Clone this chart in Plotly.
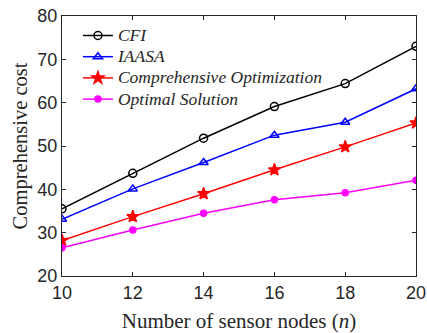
import plotly.graph_objects as go

nodes = [10, 12, 14, 16, 18, 20]
cfi = [35.5, 43.7, 51.8, 59.1, 64.4, 73.0]
iaasa = [33.1, 40.1, 46.2, 52.5, 55.5, 63.2]
comp_opt = [28.2, 33.7, 39.0, 44.5, 49.8, 55.3]
optimal = [26.5, 30.6, 34.5, 37.6, 39.2, 42.1]

series = [
    ("CFI", cfi, "black", "circle-open", 8),
    ("IAASA", iaasa, "blue", "triangle-up-open", 8),
    ("Comprehensive Optimization", comp_opt, "red", "star", 9),
    ("Optimal Solution", optimal, "magenta", "circle", 6),
]

fig = go.Figure()
for name, vals, color, sym, size in series:
    fig.add_trace(go.Scatter(
        x=nodes, y=vals,
        name='<span style="font-size:17.5px"><i>' + name + "</i></span>",
        mode="lines+markers",
        line=dict(color=color, width=1.5),
        marker=dict(symbol=sym, size=size, color=color, line=dict(color=color, width=1.5)),
    ))

serif = "Liberation Serif, Times New Roman, serif"
axis_common = dict(
    showline=True, linecolor="#262626", linewidth=1, mirror="ticks",
    ticks="inside", ticklen=4, tickcolor="#262626", showgrid=False, zeroline=False,
    tickfont=dict(family="Liberation Sans, Arial", size=18, color="#262626"),
    ticklabeloverflow="allow", automargin=False,
)
fig.update_xaxes(range=[10, 20], tickvals=[10, 12, 14, 16, 18, 20],
                 title=dict(text="Number of sensor nodes (<i>n</i>)",
                            font=dict(family=serif, size=21, color="#262626"),
                            standoff=14),
                 **axis_common)
fig.update_yaxes(range=[20, 80], tickvals=[20, 30, 40, 50, 60, 70, 80],
                 title=dict(text="Comprehensive cost",
                            font=dict(family=serif, size=20.5, color="#262626"),
                            standoff=4),
                 **axis_common)

fig.update_layout(
    width=427, height=333,
    margin=dict(l=62, r=11, t=16, b=57, autoexpand=False),
    plot_bgcolor="white", paper_bgcolor="white",
    legend=dict(x=0.045, y=0.985, xanchor="left", yanchor="top",
                bgcolor="rgba(255,255,255,0)",
                font=dict(family=serif, size=14, color="#262626"),
                itemwidth=30, tracegroupgap=0),
    showlegend=True,
)

# remove the browser's default 8px body margin so the figure fills the window exactly
fig.write_html("out.html", config={"displayModeBar": False},
               post_script="document.body.style.margin='0';document.body.style.overflow='hidden';")
